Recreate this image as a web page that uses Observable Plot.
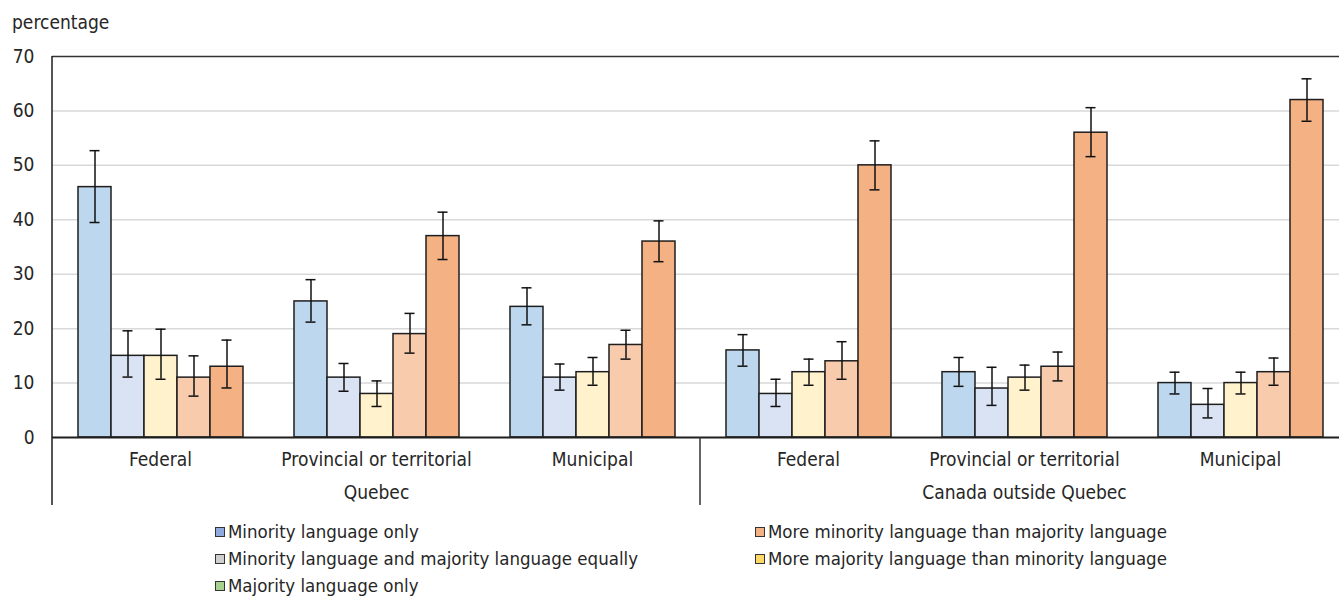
<!DOCTYPE html>
<html>
<head>
<meta charset="utf-8">
<script src="https://cdn.jsdelivr.net/npm/d3@7"></script>
<script src="https://cdn.jsdelivr.net/npm/@observablehq/plot@0.6"></script>
<style>
  html, body { margin: 0; padding: 0; background: #fff; overflow: hidden; width: 1339px; }
  body { font-family: "Liberation Sans Narrow", "Arial Narrow", "DejaVu Sans Condensed", sans-serif; color: #262626; }
  #title { height: 40px; line-height: 44px; padding-left: 12px; font-size: 19px; }
  #legend { display: grid; grid-template-columns: 540px 540px; margin-left: 215px; margin-top: -2px; }
  .item { display: flex; align-items: center; height: 27px; font-size: 18.5px; white-space: nowrap; }
  .sw { width: 8px; height: 8px; border: 1px solid #333; margin-right: 3px; flex: none; }
</style>
</head>
<body>
<div id="title">percentage</div>
<div id="chart"></div>
<div id="legend"></div>
<script>
// ---- data ----
const regions = ["Quebec", "Canada outside Quebec"];
const levels = ["Federal", "Provincial or territorial", "Municipal"];
const series = [
  "Minority language only",
  "More minority language than majority language",
  "Minority language and majority language equally",
  "More majority language than minority language",
  "Majority language only"
];
const barColors = ["#bdd7ee", "#dae3f3", "#fff2cc", "#f8cbad", "#f4b183"];

// values per series, in group order: Quebec (Fed, Prov, Mun), Canada outside Quebec (Fed, Prov, Mun)
const minorityOnly      = [46, 25, 24, 16, 12, 10];
const moreMinority      = [15, 11, 11, 8, 9, 6];
const equally           = [15, 8, 12, 12, 11, 10];
const moreMajority      = [11, 19, 17, 14, 13, 12];
const majorityOnly      = [13, 37, 36, 50, 56, 62];

const minorityOnlyLow   = [39.5, 21.2, 20.7, 13.1, 9.4, 8.0];
const moreMinorityLow   = [11.1, 8.5, 8.7, 5.7, 5.9, 3.6];
const equallyLow        = [10.7, 5.7, 9.6, 9.6, 8.7, 8.0];
const moreMajorityLow   = [7.6, 15.5, 14.4, 10.7, 10.4, 9.6];
const majorityOnlyLow   = [9.1, 32.7, 32.3, 45.5, 51.6, 58.1];

const minorityOnlyHigh  = [52.7, 29.0, 27.5, 18.9, 14.7, 12.0];
const moreMinorityHigh  = [19.6, 13.6, 13.5, 10.7, 12.9, 9.0];
const equallyHigh       = [19.9, 10.4, 14.7, 14.4, 13.3, 12.0];
const moreMajorityHigh  = [15.0, 22.8, 19.7, 17.6, 15.7, 14.6];
const majorityOnlyHigh  = [17.9, 41.4, 39.8, 54.5, 60.6, 65.9];

const yTicks = [0, 10, 20, 30, 40, 50, 60, 70];
const gridTicks = [10, 20, 30, 40, 50, 60];

const legendLabels = [
  "Minority language only",
  "More minority language than majority language",
  "Minority language and majority language equally",
  "More majority language than minority language",
  "Majority language only"
];
const legendColors = ["#8faadc", "#f4b183", "#d0cece", "#ffd966", "#a9d18e"];

// ---- build table ----
const groups = [];
for (const r of regions) for (const l of levels) groups.push(r + "|" + l);
const vals = [minorityOnly, moreMinority, equally, moreMajority, majorityOnly];
const lows = [minorityOnlyLow, moreMinorityLow, equallyLow, moreMajorityLow, majorityOnlyLow];
const highs = [minorityOnlyHigh, moreMinorityHigh, equallyHigh, moreMajorityHigh, majorityOnlyHigh];
const data = [];
groups.forEach((g, gi) => series.forEach((s, si) => {
  data.push({group: g, series: s, value: vals[si][gi], low: lows[si][gi], high: highs[si][gi]});
}));
const regionLabels = [
  {group: regions[0] + "|" + levels[1], text: regions[0]},
  {group: regions[1] + "|" + levels[1], text: regions[1]}
];

const FONT = "'Liberation Sans Narrow', 'Arial Narrow', 'DejaVu Sans Condensed', sans-serif";
const W = 1348, H = 480, ML = 52, MT = 16, MB = 83;

const plot = Plot.plot({
  width: W,
  height: H,
  marginLeft: ML,
  marginRight: 0,
  marginTop: MT,
  marginBottom: MB,
  style: {fontFamily: FONT, fontSize: "19px", color: "#262626", maxWidth: "none", overflow: "visible"},
  fx: {domain: groups, paddingInner: 0, paddingOuter: 0, label: null},
  x: {domain: series, paddingInner: 0, paddingOuter: 0.743, axis: null},
  y: {domain: [0, 70], label: null},
  color: {domain: series, range: barColors},
  marks: [
    Plot.ruleY(gridTicks, {stroke: "#d9d9d9", strokeWidth: 1.5}),
    Plot.ruleY([70], {stroke: "#333", strokeWidth: 1.5}),
    Plot.barY(data, {fx: "group", x: "series", y: "value", fill: "series", stroke: "#1e1e1e", strokeWidth: 1.5}),
    Plot.ruleX(data, {fx: "group", x: "series", y1: "low", y2: "high", stroke: "#111", strokeWidth: 1.5}),
    Plot.tickY(data, {fx: "group", x: "series", y: "low", stroke: "#111", strokeWidth: 1.5, insetLeft: 11.5, insetRight: 11.5}),
    Plot.tickY(data, {fx: "group", x: "series", y: "high", stroke: "#111", strokeWidth: 1.5, insetLeft: 11.5, insetRight: 11.5}),
    Plot.ruleY([0], {stroke: "#1e1e1e", strokeWidth: 2}),
    Plot.axisY({ticks: yTicks, tickSize: 0, tickPadding: 18, tickFormat: d => String(d), label: null}),
    Plot.axisFx({anchor: "bottom", tickSize: 0, tickPadding: 15, tickFormat: d => d.split("|")[1], label: null}),
    Plot.text(regionLabels, {fx: "group", text: "text", frameAnchor: "bottom", dy: 61, fill: "#262626"})
  ]
});
document.getElementById("chart").appendChild(plot);

// separators drawn from the library's fx scale
const fxs = plot.scale("fx");
const band = d3.scaleBand().domain(fxs.domain).range(fxs.range).paddingInner(0).paddingOuter(0);
const svg = d3.select(plot.tagName === "svg" ? plot : plot.querySelector("svg"));
const yBottom = H - MB;
const xLeft = band(groups[0]);
const xSep = band(groups[3]);
svg.append("line").attr("x1", xLeft).attr("x2", xLeft).attr("y1", MT).attr("y2", yBottom + 68)
  .attr("stroke", "#1e1e1e").attr("stroke-width", 1.5);
svg.append("line").attr("x1", xSep).attr("x2", xSep).attr("y1", yBottom).attr("y2", yBottom + 68)
  .attr("stroke", "#333").attr("stroke-width", 1.5);

// legend
const lg = document.getElementById("legend");
legendLabels.forEach((t, i) => {
  const d = document.createElement("div");
  d.className = "item";
  d.innerHTML = `<span class="sw" style="background:${legendColors[i]}"></span><span></span>`;
  d.lastChild.textContent = t;
  lg.appendChild(d);
});
</script>
</body>
</html>
